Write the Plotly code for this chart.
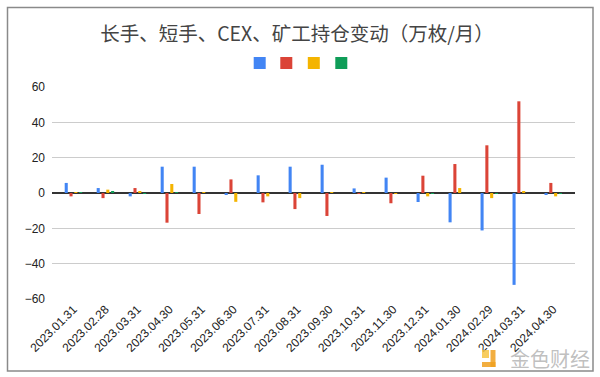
import plotly.graph_objects as go

dates = ["2023.01.31", "2023.02.28", "2023.03.31", "2023.04.30", "2023.05.31",
         "2023.06.30", "2023.07.31", "2023.08.31", "2023.09.30", "2023.10.31",
         "2023.11.30", "2023.12.31", "2024.01.30", "2024.02.29", "2024.03.31",
         "2024.04.30"]
long_hand = [5.7, 2.8, -1.9, 14.9, 14.9, -0.8, 10.0, 14.9, 16.0, 2.6, 8.7, -5.1, -16.6, -21.2, -52.0, -0.6]
short_hand = [-1.9, -2.9, 2.8, -16.8, -11.9, 7.7, -5.3, -9.1, -13.0, -0.2, -5.8, 9.8, 16.4, 27.0, 51.9, 5.7]
cex = [0.1, 1.9, 0.6, 5.1, 0.1, -5.0, -1.9, -2.9, 0.1, 0.5, -0.3, -1.9, 2.8, -2.9, 0.9, -1.9]
miners = [0.1, 0.6, -0.5, 0.5, 0.0, 0.0, 0.0, 0.0, 0.0, 0.0, 0.0, -0.3, 0.0, -0.3, 0.0, -0.2]

series_names = ["长手", "短手", "CEX", "矿工"]
series_values = [long_hand, short_hand, cex, miners]
colors = ["#4285F4", "#DB4437", "#F4B400", "#0F9D58"]
legend_ids = ["legend", "legend2", "legend3", "legend4"]

# layout geometry (pixels)
L, R, T, B = 52, 25, 87, 78
W, H = 600, 377
pw, ph = W - L - R, H - T - B


def px(x):
    return (x - L) / pw


def py(y):
    return (H - B - y) / ph


fig = go.Figure()
for nm, vals, c, lg in zip(series_names, series_values, colors, legend_ids):
    fig.add_trace(go.Bar(
        x=list(range(len(dates))), y=vals, name="", marker_color=c,
        marker_line_width=0, legend=lg,
        hovertemplate=nm + ": %{y}<extra></extra>",
    ))

legend_centers = [259.7, 286.3, 313.8, 341.3]
legend_cfg = {}
for lg, cx in zip(legend_ids, legend_centers):
    legend_cfg[lg] = dict(orientation="h", xref="paper", yref="paper",
                          x=px(cx - 20), xanchor="left", y=py(63), yanchor="middle",
                          entrywidth=1, itemwidth=30, font=dict(size=10),
                          bgcolor="rgba(0,0,0,0)", borderwidth=0)

fig.update_layout(
    width=W, height=H,
    margin=dict(l=L, r=R, t=T, b=B, autoexpand=False),
    paper_bgcolor="white", plot_bgcolor="white",
    barmode="group", bargap=0.4, bargroupgap=0.36,
    title=dict(text="长手、短手、CEX、矿工持仓变动（万枚/月）",
               x=0.495, xanchor="center", xref="container",
               y=1 - 34 / H, yanchor="middle", yref="container",
               font=dict(family="Noto Sans CJK SC", size=19.5, color="#444444")),
    showlegend=True,
    xaxis=dict(tickmode="array", tickvals=list(range(len(dates))), ticktext=dates,
               tickangle=-45, range=[-0.67, 15.68], showgrid=False, zeroline=False,
               showline=False, ticks="", automargin=False,
               tickfont=dict(family="Liberation Sans", size=12, color="#222222")),
    yaxis=dict(range=[-60, 60], tickvals=[-60, -40, -20, 0, 20, 40, 60],
               showgrid=True, gridcolor="#cccccc", gridwidth=1,
               zeroline=True, zerolinecolor="#333333", zerolinewidth=1.5,
               showline=False, ticks="", ticklabelstandoff=6, automargin=False,
               tickfont=dict(family="Liberation Sans", size=12, color="#222222")),
    font=dict(family="Liberation Sans"),
    shapes=[
        dict(type="rect", xref="paper", yref="paper",
             x0=px(7.5), x1=px(593), y0=py(371), y1=py(7.5),
             line=dict(color="#8a8a8a", width=1.5), fillcolor="rgba(0,0,0,0)",
             layer="below"),
        # watermark logo
        dict(type="rect", xref="paper", yref="paper",
             x0=px(482), x1=px(489), y0=py(358), y1=py(350),
             line=dict(width=0), fillcolor="rgba(247,196,66,0.85)", layer="above"),
        dict(type="rect", xref="paper", yref="paper",
             x0=px(490.5), x1=px(495.5), y0=py(367), y1=py(350),
             line=dict(width=0), fillcolor="rgba(240,160,30,0.85)", layer="above"),
        dict(type="rect", xref="paper", yref="paper",
             x0=px(482), x1=px(495.5), y0=py(367), y1=py(362),
             line=dict(width=0), fillcolor="rgba(240,160,30,0.85)", layer="above"),
    ],
    annotations=[
        dict(text="金色财经", xref="paper", yref="paper", x=px(550), y=py(358.5),
             showarrow=False, xanchor="center", yanchor="middle",
             font=dict(family="Noto Sans CJK SC", size=20, color="rgba(175,175,175,0.8)")),
    ],
    **legend_cfg,
)

fig.write_html("out.html", config={"displayModeBar": False},
               post_script="document.body.style.margin='0px';")
